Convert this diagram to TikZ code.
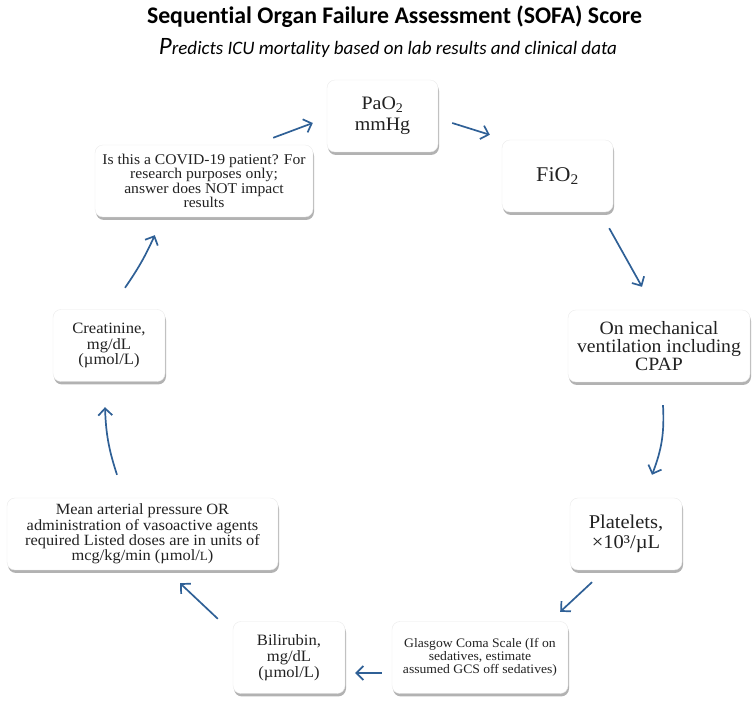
\documentclass[tikz,border=0pt]{standalone}
\usepackage{fontspec}
\setmainfont[FakeStretch=1.05]{Liberation Serif}
\newfontfamily\titlefont[Ligatures=NoCommon]{Carlito}
\usetikzlibrary{arrows.meta,shadows,calc}
\definecolor{arrowblue}{HTML}{2F6096}
\definecolor{boxtext}{HTML}{222222}
\begin{document}
\begin{tikzpicture}[x=1pt,y=1pt,
  box/.style={draw=black!8, fill=white, rounded corners=8pt, minimum width=#1,
    minimum height=72pt, align=center, inner sep=2pt, text=boxtext,
    drop shadow={shadow xshift=1pt, shadow yshift=-3pt, opacity=0.3, fill=black}},
  arr/.style={draw=arrowblue, line width=1.7pt,
    -{Straight Barb[length=7pt, width=14pt, line width=1.7pt]}}]
\useasboundingbox (0,0) rectangle (755,703);

\node[font=\titlefont\bfseries\fontsize{23.8}{25}\selectfont, text=black] (title) at (394.5,686) {Sequential Organ Failure Assessment (SOFA) Score};
\node[font=\titlefont\itshape\fontsize{19}{20}\selectfont, text=black] (subtitle) at (388,655) {{\fontsize{25}{26}\selectfont P}redicts ICU mortality based on lab results and clinical data};

\node[box=111pt, font=\fontsize{19}{20.5}\selectfont] (pao2) at (382.5,587) {PaO\textsubscript{2}\\mmHg};
\node[box=111pt, font=\fontsize{21}{22}\selectfont] (fio2) at (557.5,527) {FiO\textsubscript{2}};
\node[box=182pt, font=\fontsize{18.8}{18.3}\selectfont] (mech) at (659,357) {On mechanical\\ventilation including\\CPAP};
\node[box=112pt, font=\fontsize{19.5}{20}\selectfont] (plat) at (626,169) {Platelets,\\×10³/µL};
\node[box=176pt, font=\fontsize{13}{13.3}\selectfont] (gcs) at (480,45.5) {Glasgow Coma Scale (If on\\sedatives, estimate\\assumed GCS off sedatives)};
\node[box=112pt, font=\fontsize{15.8}{15.8}\selectfont] (bili) at (289,45.5) {Bilirubin,\\mg/dL\\(µmol/L)};
\node[box=271pt, font=\fontsize{15.6}{13.8}\selectfont] (map) at (142.5,169) {Mean arterial pressure OR\\administration of vasoactive agents\\required Listed doses are in units of\\mcg/kg/min (µmol/{\fontsize{12.5}{13}\selectfont L})};
\node[box=112pt, font=\fontsize{15.8}{15.8}\selectfont] (creat) at (109,357.5) {Creatinine,\\mg/dL\\(µmol/L)};
\node[box=218pt, font=\fontsize{14.9}{14.5}\selectfont] (covid) at (204,522) {Is this a COVID-19 patient? For\\research purposes only;\\answer does NOT impact\\results};

\draw[arr] ($(covid.north east)+(-40,7)$) -- ($(pao2.west)+(-14,-7)$);
\draw[arr] ($(pao2.east)+(14,-7)$) -- ($(fio2.north west)+(-12,5)$);
\draw[arr] ($(fio2.south east)+(-4,-16)$) -- ($(mech.north)+(-17,23)$);
\draw[arr] ($(mech.south)+(4,-23)$) to[bend left=12] ($(plat.north)+(26,23)$);
\draw[arr] ($(plat.south)+(-34,-12)$) -- ($(gcs.north east)+(-8,9.5)$);
\draw[arr] ($(gcs.west)+(-10,-15.5)$) -- ($(bili.east)+(10,-15.5)$);
\draw[arr] ($(bili.north west)+(-15,2.5)$) -- ($(map.south)+(37.5,-13)$);
\draw[arr] ($(map.north)+(-25.5,23)$) to[bend left=8] ($(creat.south)+(-4,-25.5)$);
\draw[arr] ($(creat.north)+(16,21.5)$) to[bend right=5] ($(covid.south west)+(60,-18)$);
\end{tikzpicture}
\end{document}
